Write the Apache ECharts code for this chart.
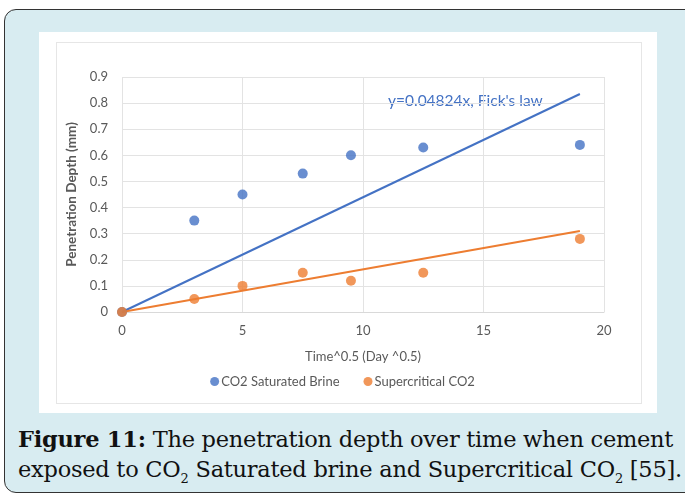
<!DOCTYPE html>
<html>
<head>
<meta charset="utf-8">
<script src="https://cdn.jsdelivr.net/npm/echarts@6/dist/echarts.min.js"></script>
<style>
  html,body{margin:0;padding:0;width:685px;height:495px;background:#ffffff;overflow:hidden;}
  #outer{position:absolute;left:4px;top:9px;width:700px;height:482px;background:#d8ecf1;border:1.5px solid #333;border-radius:12px;}
  #white{position:absolute;left:39px;top:32px;width:618px;height:381px;background:#ffffff;}
  #inner{position:absolute;left:56px;top:42px;width:584px;height:360px;border:1px solid #e6e6e6;}
  #chart{position:absolute;left:0;top:0;width:685px;height:495px;}
  #caption{position:absolute;left:18px;top:424px;width:670px;font-family:"DejaVu Serif","Liberation Serif",serif;font-size:22.5px;line-height:30px;color:#111;white-space:nowrap;letter-spacing:-0.25px;}
  #caption sub{font-size:13px;vertical-align:-6px;line-height:0;}
</style>
</head>
<body>
<div id="outer"></div>
<div id="white"></div>
<div id="inner"></div>
<div id="caption"><b>Figure 11:</b> The penetration depth over time when cement<br>exposed to CO<sub>2</sub> Saturated brine and Supercritical CO<sub>2</sub> [55].</div>
<div id="chart"></div>
<script>
const seriesNames = ["CO2 Saturated Brine", "Supercritical CO2"];
const timeSqrt = [0, 3, 5, 7.5, 9.5, 12.5, 19];
const brineDepth = [0, 0.35, 0.45, 0.53, 0.60, 0.63, 0.64];
const scco2Depth = [0, 0.05, 0.10, 0.15, 0.12, 0.15, 0.28];
const fickLineX = [0, 19];
const fickLineY = [0, 0.835];
const scLineX = [0, 19];
const scLineY = [0, 0.31];
const fickLabel = "y=0.04824x, Fick's law";
const xTitle = "Time^0.5 (Day ^0.5)";
const yTitle = "Penetration Depth (mm)";

const blue = "#4472C4", orange = "#ED7D31";
const font = "Lato, 'Open Sans', sans-serif";
const pair = (xs, ys) => xs.map((x, i) => [x, ys[i]]);

const chart = echarts.init(document.getElementById('chart'), null, {renderer: 'canvas'});
chart.setOption({
  backgroundColor: 'transparent',
  animation: false,
  grid: {left: 122, top: 77, right: 81, bottom: 183, containLabel: false},
  xAxis: {
    type: 'value', min: 0, max: 20, interval: 5,
    name: xTitle, nameLocation: 'middle', nameGap: 38,
    nameTextStyle: {color: '#595959', fontSize: 13, fontFamily: font},
    axisLine: {show: true, lineStyle: {color: '#d9d9d9'}},
    axisTick: {show: false},
    axisLabel: {color: '#595959', fontSize: 13, fontFamily: font, margin: 12},
    splitLine: {show: true, lineStyle: {color: '#e3e3e3'}}
  },
  yAxis: {
    type: 'value', min: 0, max: 0.9, interval: 0.1,
    name: yTitle, nameLocation: 'middle', nameGap: 38,
    nameTextStyle: {color: '#595959', fontSize: 13.5, fontWeight: 'bold', fontFamily: font},
    axisLine: {show: false},
    axisTick: {show: false},
    axisLabel: {color: '#595959', fontSize: 13, fontFamily: font, margin: 14,
      formatter: v => (Math.round(v * 10) / 10).toString()},
    splitLine: {show: true, lineStyle: {color: '#e3e3e3'}}
  },
  legend: {
    data: seriesNames, top: 370, left: 'center', itemGap: 24,
    icon: 'circle', itemWidth: 9, itemHeight: 9,
    textStyle: {color: '#595959', fontSize: 13, fontFamily: font, padding: [0,0,0,-3]}
  },
  series: [
    {type: 'line', data: pair(fickLineX, fickLineY), showSymbol: false, lineStyle: {color: blue, width: 2}, silent: true, z: 2},
    {type: 'line', data: pair(scLineX, scLineY), showSymbol: false, lineStyle: {color: orange, width: 2}, silent: true, z: 2},
    {name: seriesNames[0], type: 'scatter', data: pair(timeSqrt, brineDepth), symbolSize: 10, itemStyle: {color: blue}, z: 3},
    {name: seriesNames[1], type: 'scatter', data: pair(timeSqrt, scco2Depth), symbolSize: 10, itemStyle: {color: orange}, z: 4}
  ],
  graphic: [{
    type: 'text', left: 388, top: 93,
    style: {text: fickLabel, fill: blue, font: "15.5px " + font}
  }]
});
</script>
</body>
</html>
